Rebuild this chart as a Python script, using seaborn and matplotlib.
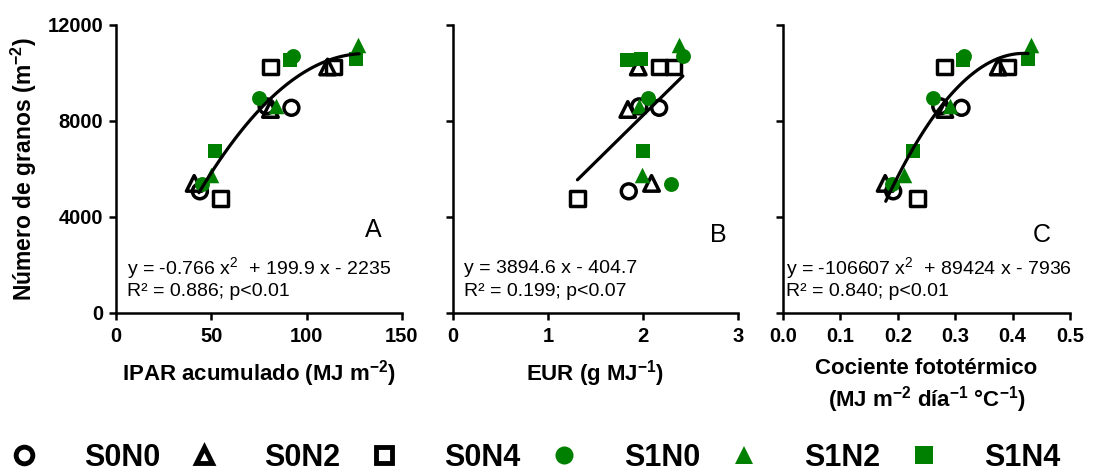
import numpy as np
import pandas as pd
import matplotlib
matplotlib.use("Agg")
import matplotlib.pyplot as plt
from matplotlib.lines import Line2D
import seaborn as sns

sns.set_style("ticks")
plt.rcParams['font.family'] = ['Liberation Sans', 'DejaVu Sans']
plt.rcParams['mathtext.fontset'] = 'custom'
plt.rcParams['mathtext.rm'] = 'Liberation Sans'
plt.rcParams['mathtext.bf'] = 'Liberation Sans:bold'
plt.rcParams['mathtext.it'] = 'Liberation Sans:italic'
for k in ['text.color', 'axes.labelcolor', 'xtick.color', 'ytick.color', 'axes.edgecolor']:
    plt.rcParams[k] = 'black'

# ---------------- data ----------------
treatments = ["S0N0", "S0N2", "S0N4", "S1N0", "S1N2", "S1N4"]
# grain number (m-2), three points per treatment
granos = {
    "S0N0": [5070, 8610, 8550],
    "S0N2": [5400, 8480, 10250],
    "S0N4": [4780, 10250, 10250],
    "S1N0": [5390, 8970, 10720],
    "S1N2": [5750, 8610, 11180],
    "S1N4": [6770, 10550, 10600],
}
ipar = {
    "S0N0": [44, 79, 92],
    "S0N2": [41, 81, 111],
    "S0N4": [55, 81, 114],
    "S1N0": [45, 75, 93],
    "S1N2": [50, 84, 127],
    "S1N4": [52, 91, 126],
}
eur = {
    "S0N0": [1.85, 1.96, 2.17],
    "S0N2": [2.09, 1.84, 1.95],
    "S0N4": [1.31, 2.17, 2.32],
    "S1N0": [2.29, 2.05, 2.42],
    "S1N2": [1.99, 1.96, 2.38],
    "S1N4": [2.00, 1.83, 1.98],
}
cociente = {
    "S0N0": [0.192, 0.274, 0.311],
    "S0N2": [0.178, 0.282, 0.375],
    "S0N4": [0.235, 0.281, 0.391],
    "S1N0": [0.190, 0.261, 0.316],
    "S1N2": [0.210, 0.291, 0.432],
    "S1N4": [0.227, 0.314, 0.426],
}
# fitted curves (polynomial coefficients, highest order first) and x-range drawn
fit_A = [-0.766, 199.9, -2235]
fit_A_range = [43.5, 127.5]
fit_B = [3894.6, 448]
fit_B_range = [1.31, 2.42]
fit_C = [-106607, 89424, -7936]
fit_C_range = [0.179, 0.427]

eq_A = ["y = -0.766 x$^{2}$  + 199.9 x - 2235", "R\u00b2 = 0.886; p<0.01"]
eq_B = ["y = 3894.6 x - 404.7", "R\u00b2 = 0.199; p<0.07"]
eq_C = ["y = -106607 x$^{2}$  + 89424 x - 7936", "R\u00b2 = 0.840; p<0.01"]

rows = []
for t in treatments:
    for i in range(3):
        rows.append(dict(trat=t, y=granos[t][i], ipar=ipar[t][i],
                         eur=eur[t][i], coc=cociente[t][i]))
df = pd.DataFrame(rows)

GREEN = "#008000"
style = {
    "S0N0": dict(marker="o", open=True),
    "S0N2": dict(marker="^", open=True),
    "S0N4": dict(marker="s", open=True),
    "S1N0": dict(marker="o", open=False),
    "S1N2": dict(marker="^", open=False),
    "S1N4": dict(marker="s", open=False),
}

fig = plt.figure(figsize=(10.94, 4.76), dpi=100)
H = 476.0
W = 1094.0
def ax_rect(x0, x1, ytop=25, ybot=313):
    return [x0 / W, 1 - ybot / H, (x1 - x0) / W, (ybot - ytop) / H]

axA = fig.add_axes(ax_rect(116, 402))
axB = fig.add_axes(ax_rect(453, 738))
axC = fig.add_axes(ax_rect(783, 1070))

panels = [
    (axA, "ipar", fit_A, fit_A_range, eq_A, "A", (0, 150), [0, 50, 100, 150], "{:.0f}",
     "IPAR acumulado (MJ m$^{\\mathbf{-2}}$)", (135, 3450)),
    (axB, "eur", fit_B, fit_B_range, eq_B, "B", (0, 3), [0, 1, 2, 3], "{:.0f}",
     "EUR (g MJ$^{\\mathbf{-1}}$)", (2.79, 3250)),
    (axC, "coc", fit_C, fit_C_range, eq_C, "C", (0, 0.5), [0, 0.1, 0.2, 0.3, 0.4, 0.5], "{:.1f}",
     "Cociente fotot\u00e9rmico\n(MJ m$^{\\mathbf{-2}}$ d\u00eda$^{\\mathbf{-1}}$ \u00b0C$^{\\mathbf{-1}}$)", (0.451, 3250)),
]

handles = {}
for ax, col, fit, frange, eq, letter, xlim, xticks, fmt, xlabel, lpos in panels:
    for t in treatments:
        sub = df[df.trat == t]
        st = style[t]
        n0 = len(ax.collections)
        sns.scatterplot(data=sub, x=col, y="y", ax=ax, marker=st["marker"],
                        s=115 if st["marker"] != "^" else 125,
                        color="black" if st["open"] else GREEN,
                        linewidth=2.5 if st["open"] else 0, zorder=3)
        coll = ax.collections[n0]
        if st["open"]:
            coll.set_facecolor("none")
            coll.set_edgecolor("black")
            coll.set_linewidth(2.5)
        handles[t] = Line2D([], [], linestyle="none", marker=st["marker"],
                            markersize=12 if st["open"] else 13,
                            markerfacecolor="none" if st["open"] else GREEN,
                            markeredgecolor="black" if st["open"] else GREEN,
                            markeredgewidth=3.5 if st["open"] else 0)
    xs = np.linspace(frange[0], frange[1], 100)
    sns.lineplot(x=xs, y=np.polyval(fit, xs), ax=ax, color="black", lw=2.3, zorder=4)
    ax.set_xlim(*xlim)
    ax.set_ylim(0, 12000)
    ax.set_xticks(xticks)
    ax.set_xticklabels([fmt.format(v) for v in xticks])
    ax.set_yticks([0, 4000, 8000, 12000])
    for s in ["top", "right"]:
        ax.spines[s].set_visible(False)
    for s in ["left", "bottom"]:
        ax.spines[s].set_linewidth(1.8)
    ax.tick_params(width=1.8, length=5, labelsize=14.5, pad=4)
    ax.tick_params(axis="x", pad=5)
    for lab in ax.get_xticklabels() + ax.get_yticklabels():
        lab.set_fontweight("bold")
    ax.set_xlabel(xlabel, fontsize=16, fontweight="bold", labelpad=9, linespacing=1.2)
    ax.set_ylabel("")
    ax.text(lpos[0], lpos[1], letter, fontsize=18, ha="center", va="center")
    x0 = 0.04 if ax is not axC else 0.01
    ax.text(x0, 0.155, eq[0], transform=ax.transAxes,
            fontsize=14, ha="left", va="center", clip_on=False)
    ax.text(x0, 0.075, eq[1], transform=ax.transAxes,
            fontsize=14, ha="left", va="center", clip_on=False)

axB.set_yticklabels([])
axC.set_yticklabels([])
axA.set_ylabel("N\u00famero de granos (m$^{\\mathbf{-2}}$)", fontsize=16.5,
               fontweight="bold", labelpad=6)

fig.legend([handles[t] for t in treatments], treatments, ncol=6,
           loc="lower left", bbox_to_anchor=(0.008, 0.006), frameon=False,
           prop=dict(size=22, weight="bold"), handlelength=1.0,
           handletextpad=1.45, columnspacing=0.95, borderpad=0.0,
           borderaxespad=0.0)

fig.savefig("out.png", dpi=100)
